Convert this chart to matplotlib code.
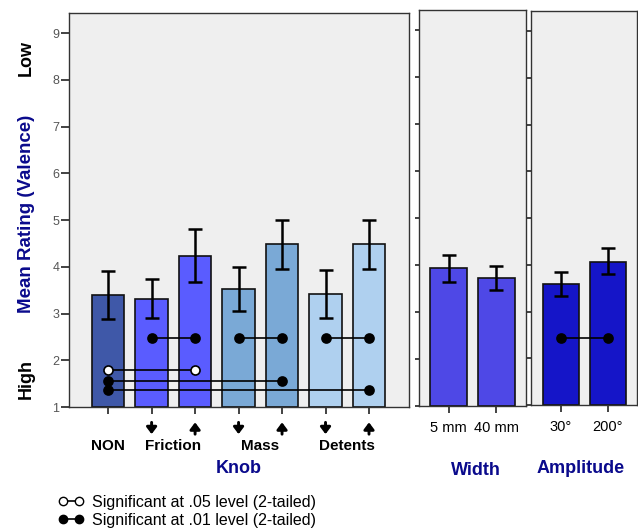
import matplotlib
matplotlib.use("Agg")
import matplotlib.pyplot as plt
from matplotlib.lines import Line2D
from matplotlib import transforms

plt.rcParams['font.family'] = ['Liberation Sans', 'DejaVu Sans']

# ---- data ----
knob_means = [3.40, 3.32, 4.24, 3.52, 4.48, 3.42, 4.48]
knob_lo = [2.88, 2.91, 3.67, 3.05, 3.95, 2.91, 3.95]
knob_hi = [3.90, 3.74, 4.80, 3.99, 5.01, 3.93, 5.01]
knob_arrows = ['', 'down', 'up', 'down', 'up', 'down', 'up']
knob_groups = ['NON', 'Friction', 'Mass', 'Detents']
knob_group_pos = [0, 1.5, 3.5, 5.5]
knob_colors = ['#3f58a8', '#5a5cff', '#5a5cff', '#7aa9d6', '#7aa9d6', '#afd0ef', '#afd0ef']
# (bar a, bar b, height, level)
knob_sig = [(1, 2, 2.47, '.01'), (3, 4, 2.47, '.01'), (5, 6, 2.47, '.01'),
            (0, 2, 1.79, '.05'), (0, 4, 1.56, '.01'), (0, 6, 1.36, '.01')]

width_labels = ['5 mm', '40 mm']
width_means = [3.93, 3.73]
width_lo = [3.65, 3.46]
width_hi = [4.21, 3.99]

amp_labels = ['30\u00b0', '200\u00b0']
amp_means = [3.59, 4.07]
amp_lo = [3.34, 3.80]
amp_hi = [3.84, 4.36]
amp_sig = [(0, 1, 2.43, '.01')]

NAVY = '#0a0a8c'
BG = '#efefef'

fig = plt.figure(figsize=(6.38, 5.29), dpi=100)

ax1 = fig.add_axes([69/638, 1-407/529, 340/638, 394/529])
ax2 = fig.add_axes([419/638, 1-406/529, 107/638, 396/529])
ax3 = fig.add_axes([531/638, 1-405/529, 106/638, 394/529])


def draw_panel(ax, means, lo, hi, colors, width, sig):
    x = list(range(len(means)))
    yerr = [[m - l for m, l in zip(means, lo)], [h - m for m, h in zip(means, hi)]]
    ax.bar(x, [m - 1 for m in means], bottom=1, width=width, color=colors,
           edgecolor='#111111', linewidth=1.2, zorder=2)
    ax.errorbar(x, means, yerr=yerr, fmt='none', ecolor='black', elinewidth=1.8,
                capsize=5, capthick=1.8, zorder=3)
    for a, b, y, lev in sig:
        face = 'white' if lev == '.05' else 'black'
        ax.plot([a, b], [y, y], color='black', lw=1.2, marker='o', ms=6.5,
                mfc=face, mec='black', mew=1.2, zorder=4)
    ax.set_facecolor(BG)
    ax.set_ylim(1, 9.43)
    ax.set_yticks(range(1, 10))
    for s in ax.spines.values():
        s.set_color('#333333')
        s.set_linewidth(1.0)
    ax.set_xticks(x)
    ax.tick_params(axis='x', length=5, width=1.2, color='#222222', labelsize=10.5, pad=6)
    ax.tick_params(axis='y', length=6, width=1.2, color='#222222', labelsize=9,
                   labelcolor='#555555', pad=1)


draw_panel(ax1, knob_means, knob_lo, knob_hi, knob_colors, 0.75, knob_sig)
ax1.set_xlim(-0.9, 6.92)
ax1.set_xticklabels([])
tr1 = transforms.blended_transform_factory(ax1.transData, ax1.transAxes)
# heavy arrows under the knob bars
for i, d in enumerate(knob_arrows):
    if not d:
        continue
    top, bot = -0.039, -0.069
    start, end = (top, bot) if d == 'down' else (bot, top)
    ax1.annotate('', xy=(i, end), xytext=(i, start), xycoords=tr1, textcoords=tr1,
                 arrowprops=dict(arrowstyle='-|>,head_length=0.4,head_width=0.3',
                                 color='black', lw=2.1, shrinkA=0, shrinkB=0),
                 annotation_clip=False)
for name, pos in zip(knob_groups, knob_group_pos):
    ax1.text(pos, -0.099, name, transform=tr1, ha='center', va='center',
             fontsize=11, fontweight='bold')
ax1.text(3.0, -0.157, 'Knob', transform=tr1, ha='center', va='center',
         fontsize=13, fontweight='bold', color=NAVY)
ax1.text(-0.125, 0.491, 'Mean Rating (Valence)', transform=ax1.transAxes, rotation=90,
         ha='center', va='center', fontsize=13.5, fontweight='bold', color=NAVY)
ax1.text(-0.125, 0.885, 'Low', transform=ax1.transAxes, rotation=90,
         ha='center', va='center', fontsize=13, fontweight='bold')
ax1.text(-0.125, 0.07, 'High', transform=ax1.transAxes, rotation=90,
         ha='center', va='center', fontsize=13, fontweight='bold')

draw_panel(ax2, width_means, width_lo, width_hi, ['#4e48e6'] * 2, 0.76, [])
ax2.set_xlim(-0.62, 1.62)
ax2.set_xticklabels(width_labels)
ax2.tick_params(axis='y', length=3, labelleft=False)
ax2.text(0.53, -0.162, 'Width', transform=ax2.transAxes, ha='center', va='center',
         fontsize=13, fontweight='bold', color=NAVY)

draw_panel(ax3, amp_means, amp_lo, amp_hi, ['#1515c8'] * 2, 0.76, amp_sig)
ax3.set_xlim(-0.63, 1.62)
ax3.set_xticklabels(amp_labels)
ax3.tick_params(axis='y', length=3, labelleft=False)
ax3.text(0.47, -0.162, 'Amplitude', transform=ax3.transAxes, ha='center', va='center',
         fontsize=13, fontweight='bold', color=NAVY)

handles = [
    Line2D([], [], color='black', lw=1.2, marker='o', ms=6, mfc='white', mec='black'),
    Line2D([], [], color='black', lw=1.2, marker='o', ms=6, mfc='black', mec='black'),
]
fig.legend(handles, ['Significant at .05 level (2-tailed)', 'Significant at .01 level (2-tailed)'],
           loc='upper left', bbox_to_anchor=(58/638, 1-495/529), frameon=False,
           numpoints=2, handlelength=1.6, handletextpad=0.55, labelspacing=0.17,
           borderpad=0, borderaxespad=0, fontsize=11.5)

fig.savefig('out.png', dpi=100)
